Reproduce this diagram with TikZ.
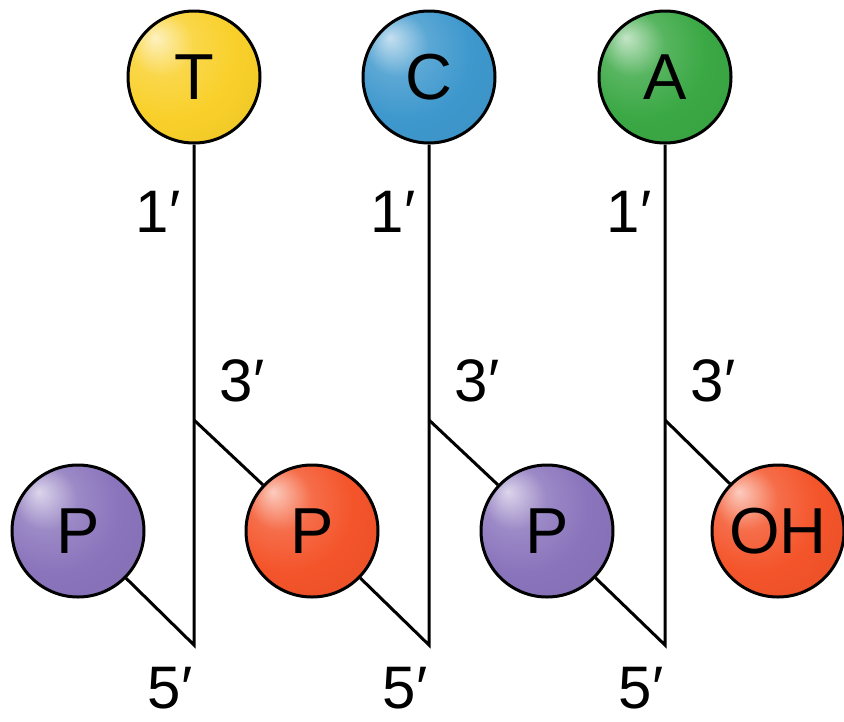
\documentclass[tikz,border=0pt]{standalone}
\usepackage{fontspec}
\setmainfont{Liberation Sans}
\usepackage{xcolor}
\usepackage{tikz}
\usetikzlibrary{shapes,positioning,calc}

\definecolor{baseT}{RGB}{249,208,42}
\definecolor{baseC}{RGB}{62,152,205}
\definecolor{baseA}{RGB}{58,168,68}
\definecolor{phosP}{RGB}{138,116,188}
\definecolor{phosR}{RGB}{244,84,42}
\colorlet{ballcol}{gray}

\pgfdeclareradialshading[ballcol]{softball}{\pgfqpoint{-15bp}{15bp}}{%
  color(0bp)=(ballcol!30!white);
  color(12bp)=(ballcol!85!white);
  color(25bp)=(ballcol);
  color(45bp)=(ballcol!94!black);
  color(65bp)=(ballcol!85!black)}

\tikzset{
  sphere/.style={circle, draw, line width=3pt, minimum size=132pt, inner sep=0pt,
    /utils/exec={\colorlet{ballcol}{#1}}, shading=softball,
    font=\fontsize{65}{65}\selectfont},
  stem/.style={line width=3pt, line join=miter},
  lab/.style={inner sep=0pt, font=\fontsize{60}{60}\selectfont}
}

\begin{document}
\begin{tikzpicture}[x=10pt, y=-10pt]
    \useasboundingbox (0,0) rectangle (84.4,72.1);

    % Sugar carbons
    \coordinate (T3) at (19.4,42);
    \coordinate (T5) at (19.4,64.5);
    \coordinate (C3) at (42.9,42);
    \coordinate (C5) at (42.9,64.5);
    \coordinate (A3) at (66.5,42);
    \coordinate (A5) at (66.5,64.5);

    % Bases
    \node [sphere=baseT] (T) at (19.4,7.7) {T};
    \node [sphere=baseC] (C) at (42.9,7.7) {C};
    \node [sphere=baseA] (A) at (66.5,7.7) {A};

    % Phosphates and 3' end
    \node [sphere=phosP] (P1) at (7.8,53.1) {P};
    \node [sphere=phosR] (P2) at (31.2,53.1) {P};
    \node [sphere=phosP] (P3) at (54.7,53.1) {P};
    \node [sphere=phosR] (OH) at (77.8,53.1) {OH};

    % Backbone
    \draw [stem] (P1) -- (T5) -- (T);
    \draw [stem] (T3) -- (P2);
    \draw [stem] (P2) -- (C5) -- (C);
    \draw [stem] (C3) -- (P3);
    \draw [stem] (P3) -- (A5) -- (A);
    \draw [stem] (A3) -- (OH);

    % Carbon labels
    \node [lab] (T1l) at (15.8,21.2) {1′};
    \node [lab] (T3l) at (24.2,38.1) {3′};
    \node [lab] (T5l) at (17.0,68.8) {5′};
    \node [lab] (C1l) at (39.3,21.2) {1′};
    \node [lab] (C3l) at (47.7,38.1) {3′};
    \node [lab] (C5l) at (40.5,68.8) {5′};
    \node [lab] (A1l) at (62.9,21.2) {1′};
    \node [lab] (A3l) at (71.3,38.1) {3′};
    \node [lab] (A5l) at (64.1,68.8) {5′};
\end{tikzpicture}
\end{document}
